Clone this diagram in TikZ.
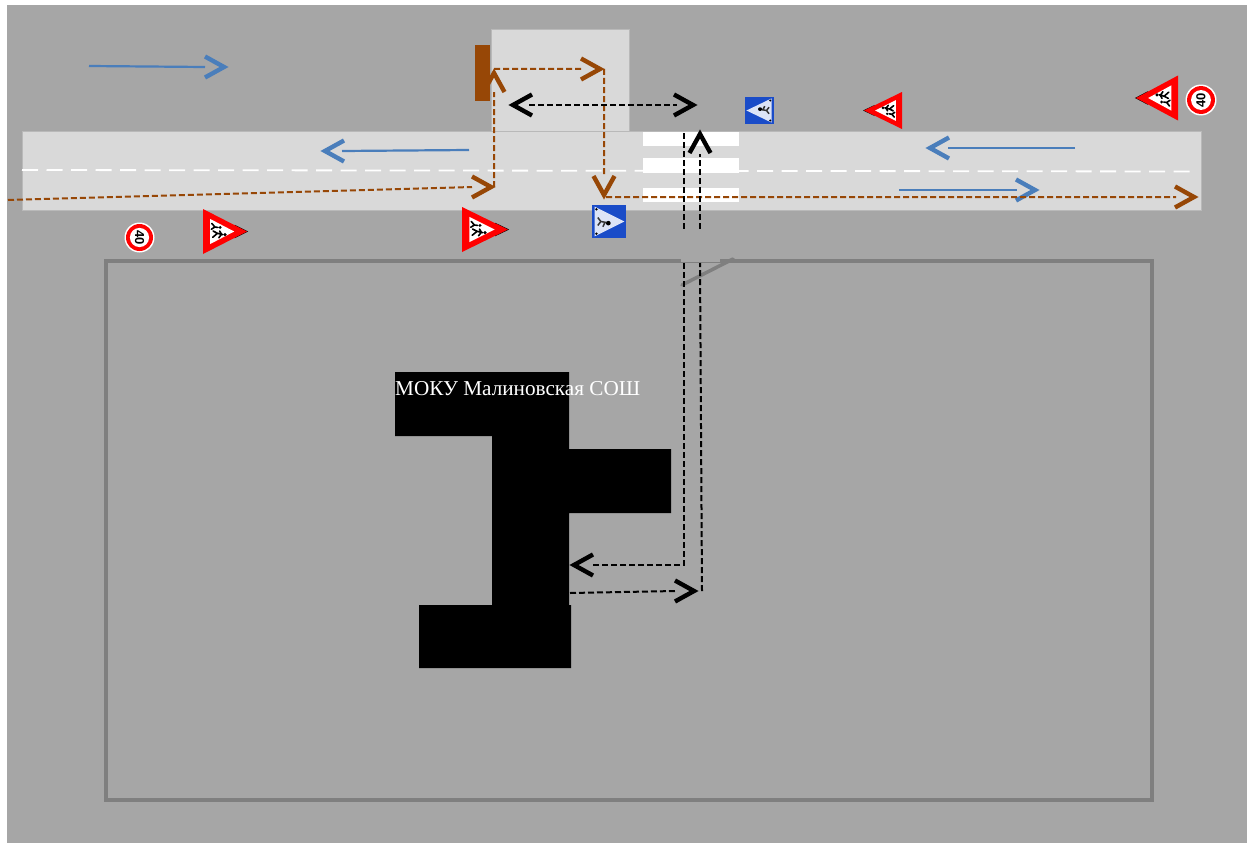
\documentclass[tikz,border=0pt]{standalone}
\usepackage{fontspec}
\setmainfont{Liberation Serif}
\setsansfont{Liberation Sans}
\definecolor{ground}{HTML}{A6A6A6}
\definecolor{roadc}{HTML}{D9D9D9}
\definecolor{fencec}{HTML}{7F7F7F}
\definecolor{routeb}{HTML}{974706}
\definecolor{flow}{HTML}{4A7EBB}
\definecolor{signblue}{HTML}{1A4CC8}
\definecolor{signred}{HTML}{FF0000}
\tikzset{
  chevron/.style={line width=4.4pt,line cap=butt,line join=miter},
  flowline/.style={draw=flow,line width=2.2pt},
  routeline/.style={draw=routeb,line width=2pt,dash pattern=on 6pt off 3pt},
  walkline/.style={draw=black,line width=2pt,dash pattern=on 6pt off 3pt},
  fig/.style={draw=black,line width=1.6pt,line cap=round},
  limitnum/.style={font=\sffamily\bfseries\fontsize{13}{13}\selectfont,text=black,inner sep=0pt},
  warn/.pic={
    \fill[black] (0.72,-0.15)--(1.025,0)--(0.72,0.15)--cycle;
    \fill[signred] (0,-0.5)--(1,0)--(0,0.5)--cycle;
    \fill[white] (0.16,-0.28)--(0.71,0)--(0.16,0.28)--cycle;
    \fill[black] (0.5,0.07) circle (0.04);
    \fill[black] (0.39,-0.09) circle (0.035);
    \draw[fig] (0.45,0.07)--(0.33,0.04)--(0.22,0.13) (0.33,0.04)--(0.23,-0.01) (0.42,0.06)--(0.36,0.14) (0.42,0.06)--(0.38,-0.01);
    \draw[fig] (0.34,-0.09)--(0.27,-0.1)--(0.19,-0.05) (0.27,-0.1)--(0.2,-0.18);
  },
  ped/.pic={
    \fill[signblue] (-0.5,-0.5) rectangle (0.5,0.5);
    \fill[white!85!signblue] (0.45,0)--(-0.42,0.45)--(-0.42,-0.45)--cycle;
    \fill[black] (-0.02,0.05) circle (0.07);
    \draw[black!80,line width=1.5pt] (-0.08,0.03)--(-0.24,0)--(-0.33,0.12) (-0.24,0)--(-0.33,-0.12) (-0.12,0.03)--(-0.18,0.16);
    \fill[black] (-0.37,0.37) circle (0.04) (-0.37,-0.37) circle (0.04);
  },
  limit/.pic={
    \fill[white] (0,0) circle (1);
    \fill[signred] (0,0) circle (0.9);
    \fill[white] (0,0) circle (0.64);
  }
}
\newcommand{\chev}[5]{% colour, tip x,y, back distance, angle
  \draw[chevron,draw=#1,shift={(#2,#3)},rotate=#5] (-#4-1,-10.5)--(-3,0)--(-#4-1,10.5);}
\begin{document}
\begin{tikzpicture}[x=1pt,y=-1pt]
\useasboundingbox (0,0) rectangle (1253,843);
\fill[white] (0,0) rectangle (1253,843);
\fill[ground] (7,5.5) rectangle (1246.5,843);
% road and forecourt
\fill[roadc] (22,131) rectangle (1201,210);
\fill[roadc] (491,29) rectangle (629,131);
\draw[fencec!35!roadc,line width=.8pt] (22,131) rectangle (1201,210) (491,131)--(491,29)--(629,29)--(629,131);
\fill[routeb] (475,45) rectangle (490,101);
% crossing
\fill[white] (643,132) rectangle (739,146);
\fill[white] (643,158) rectangle (739,173);
\fill[white] (643,188) rectangle (739,202);
\draw[white,line width=1.8pt,dash pattern=on 16pt off 8.5pt] (22,170)--(1195,171.5);
% fence
\draw[fencec,line width=4.5pt] (720,261)--(1152,261)--(1152,800)--(106,800)--(106,261)--(681,261);
\draw[fencec,line width=.8pt] (681,262)--(720,262);
\draw[fencec,line width=3.5pt,line cap=round] (682,285)--(733,259);
% building
\fill[black] (395,372)--(569,372)--(569,449)--(671,449)--(671,513)--(569,513)--(569,605)--(571,605)--(571,668)--(419,668)--(419,605)--(492,605)--(492,436)--(395,436)--cycle;
\node[text=white,font=\fontsize{21.2}{25}\selectfont,anchor=west,inner sep=0pt] (school) at (395,389) {МОКУ Малиновская СОШ};
% traffic
\coordinate (f1a) at (89,66); \coordinate (f1b) at (205,67);
\coordinate (f2a) at (469,150); \coordinate (f2b) at (342,151);
\coordinate (f3a) at (899,190); \coordinate (f3b) at (1017,190);
\coordinate (f4a) at (1075,148); \coordinate (f4b) at (948,148);
\draw[flowline] (f1a)--(f1b); \chev{flow}{227}{67}{21}{0}
\draw[flowline] (f2a)--(f2b); \chev{flow}{322}{151}{21}{180}
\draw[flowline] (f3a)--(f3b); \chev{flow}{1038}{190}{21}{0}
\draw[flowline] (f4a)--(f4b); \chev{flow}{927}{148}{21}{180}
% brown route
\coordinate (r0) at (8,200); \coordinate (r1) at (472,187); \coordinate (r2) at (494,187);
\coordinate (r3) at (494,92); \coordinate (r4) at (494,69); \coordinate (r5) at (582,69);
\coordinate (r6) at (604,69); \coordinate (r7) at (604,175); \coordinate (r8) at (606,197); \coordinate (r9) at (1176,197);
\draw[routeline] (r0)--(r1) (r2)--(r3) (r4)--(r5) (r6)--(r7) (r8)--(r9);
\chev{routeb}{494}{187}{21}{0}
\chev{routeb}{494}{70}{21}{90}
\chev{routeb}{603}{69}{21}{0}
\chev{routeb}{604}{198}{21}{-90}
\chev{routeb}{1197}{197}{21}{0}
% walking route
\coordinate (w0) at (529,105); \coordinate (w1) at (677,105);
\coordinate (w2) at (684,133); \coordinate (w3) at (684,229); \coordinate (w4) at (684,263); \coordinate (w5) at (684,565); \coordinate (w6) at (592,565);
\coordinate (w7) at (570,593); \coordinate (w8) at (676,591); \coordinate (w9) at (702,591); \coordinate (w10) at (700,263); \coordinate (w11) at (700,229); \coordinate (w12) at (700,154);
\draw[walkline] (w0)--(w1);
\draw[walkline] (w2)--(w3);
\draw[walkline] (w4)--(w5)--(w6);
\draw[walkline] (w7)--(w8);
\draw[walkline] (w9)--(w10);
\draw[walkline] (w11)--(w12);
\chev{black}{510}{105}{21}{180}
\chev{black}{696}{105}{21}{0}
\chev{black}{700}{131}{21}{90}
\chev{black}{571}{565}{21}{180}
\chev{black}{697}{591}{21}{0}
% warning signs
\pic[rotate=180,xscale=42,yscale=45] at (1178,98) {warn};
\pic[rotate=180,xscale=38,yscale=37] at (902,110.5) {warn};
\pic[xscale=44,yscale=45] at (203,231.5) {warn};
\pic[xscale=46,yscale=45] at (462,229.5) {warn};
% crossing signs
\pic[xscale=34,yscale=33] at (609,221.5) {ped};
\pic[rotate=180,xscale=29,yscale=27] at (759.5,110.5) {ped};
% speed limit signs
\pic[scale=15] at (139.5,237.5) {limit};
\node[limitnum,rotate=-90] (lim1) at (139.5,237.5) {40};
\pic[scale=15.5] at (1201,100) {limit};
\node[limitnum,rotate=90] (lim2) at (1201,100) {40};
\end{tikzpicture}
\end{document}
